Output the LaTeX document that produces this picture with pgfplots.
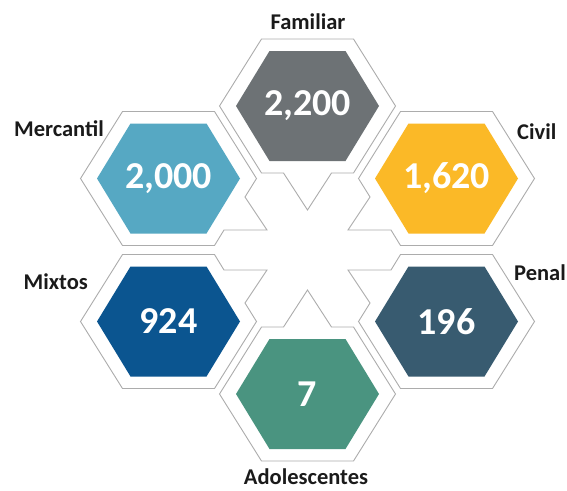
\documentclass[border=0pt]{standalone}
\usepackage{fontspec}
\setmainfont{Carlito}
\usepackage{pgfplots}
\usepackage{pgfplotstable}
\pgfplotsset{compat=1.18}

\definecolor{cF}{HTML}{6D7275}
\definecolor{cM}{HTML}{56A8C3}
\definecolor{cC}{HTML}{FBB927}
\definecolor{cX}{HTML}{0B5590}
\definecolor{cP}{HTML}{385B70}
\definecolor{cA}{HTML}{4A9480}
\definecolor{lbl}{HTML}{1A1A1A}

% helper for mark paths (pt units, y up)
\def\P#1#2{\pgfqpoint{#1pt}{#2pt}}

% inner coloured hexagon
\pgfdeclareplotmark{hexin}{%
  \pgfpathmoveto{\P{-71.5}{0}}\pgfpathlineto{\P{-38}{55}}\pgfpathlineto{\P{38}{55}}%
  \pgfpathlineto{\P{71.5}{0}}\pgfpathlineto{\P{38}{-55}}\pgfpathlineto{\P{-38}{-55}}%
  \pgfpathclose\pgfusepathqfill}

% outer outlines, each with a pointer towards the centre
\pgfdeclareplotmark{outF}{%
  \pgfpathmoveto{\P{-88}{0}}\pgfpathlineto{\P{-46}{67}}\pgfpathlineto{\P{46}{67}}%
  \pgfpathlineto{\P{88}{0}}\pgfpathlineto{\P{46}{-67}}\pgfpathlineto{\P{24}{-67}}%
  \pgfpathlineto{\P{0}{-104}}\pgfpathlineto{\P{-24}{-67}}\pgfpathlineto{\P{-46}{-67}}%
  \pgfpathclose\pgfusepathqfillstroke}
\pgfdeclareplotmark{outA}{%
  \pgfpathmoveto{\P{-88}{0}}\pgfpathlineto{\P{-46}{67}}\pgfpathlineto{\P{-24}{67}}%
  \pgfpathlineto{\P{0}{104}}\pgfpathlineto{\P{24}{67}}\pgfpathlineto{\P{46}{67}}%
  \pgfpathlineto{\P{88}{0}}\pgfpathlineto{\P{46}{-67}}\pgfpathlineto{\P{-46}{-67}}%
  \pgfpathclose\pgfusepathqfillstroke}
\pgfdeclareplotmark{outM}{%
  \pgfpathmoveto{\P{-88}{0}}\pgfpathlineto{\P{-46}{67}}\pgfpathlineto{\P{46}{67}}%
  \pgfpathlineto{\P{88}{0}}\pgfpathlineto{\P{76.5}{-18.5}}\pgfpathlineto{\P{98.5}{-51.5}}%
  \pgfpathlineto{\P{55.5}{-51.5}}\pgfpathlineto{\P{46}{-67}}\pgfpathlineto{\P{-46}{-67}}%
  \pgfpathclose\pgfusepathqfillstroke}
\pgfdeclareplotmark{outC}{%
  \pgfpathmoveto{\P{-88}{0}}\pgfpathlineto{\P{-46}{67}}\pgfpathlineto{\P{46}{67}}%
  \pgfpathlineto{\P{88}{0}}\pgfpathlineto{\P{46}{-67}}\pgfpathlineto{\P{-46}{-67}}%
  \pgfpathlineto{\P{-55.5}{-51.5}}\pgfpathlineto{\P{-98.5}{-51.5}}\pgfpathlineto{\P{-76.5}{-18.5}}%
  \pgfpathclose\pgfusepathqfillstroke}
\pgfdeclareplotmark{outX}{%
  \pgfpathmoveto{\P{-88}{0}}\pgfpathlineto{\P{-46}{67}}\pgfpathlineto{\P{46}{67}}%
  \pgfpathlineto{\P{55.5}{51.5}}\pgfpathlineto{\P{98.5}{51.5}}\pgfpathlineto{\P{76.5}{18.5}}%
  \pgfpathlineto{\P{88}{0}}\pgfpathlineto{\P{46}{-67}}\pgfpathlineto{\P{-46}{-67}}%
  \pgfpathclose\pgfusepathqfillstroke}
\pgfdeclareplotmark{outP}{%
  \pgfpathmoveto{\P{-88}{0}}\pgfpathlineto{\P{-76.5}{18.5}}\pgfpathlineto{\P{-98.5}{51.5}}%
  \pgfpathlineto{\P{-55.5}{51.5}}\pgfpathlineto{\P{-46}{67}}\pgfpathlineto{\P{46}{67}}%
  \pgfpathlineto{\P{88}{0}}\pgfpathlineto{\P{46}{-67}}\pgfpathlineto{\P{-46}{-67}}%
  \pgfpathclose\pgfusepathqfillstroke}

% positions (px, y downwards) and values
\pgfplotstableread{
x     y     val   cls
307.5 106   2200  F
168.5 178.5 2000  M
446.5 178.5 1620  C
168.5 321.5 924   X
446.5 321.5 196   P
307.5 394   7     A
}\datatab

\tikzset{outl/.style={fill=white,draw=gray!65,line width=0.9pt}}

\begin{document}
\begin{tikzpicture}
\begin{axis}[
    width=567pt, height=490pt, scale only axis,
    xmin=0, xmax=567, ymin=0, ymax=490,
    y dir=reverse,
    hide axis,
    clip=false,
]
\path (rel axis cs:0,0) rectangle (rel axis cs:1,1);

% outlines
\addplot[scatter, only marks, scatter src=explicit symbolic,
    scatter/classes={
        F={mark=outF,outl}, M={mark=outM,outl}, C={mark=outC,outl},
        X={mark=outX,outl}, P={mark=outP,outl}, A={mark=outA,outl}}]
    table[x=x, y=y, meta=cls] {\datatab};

% coloured hexagons
\addplot[scatter, only marks, scatter src=explicit symbolic,
    scatter/classes={
        F={mark=hexin,fill=cF,draw=none}, M={mark=hexin,fill=cM,draw=none},
        C={mark=hexin,fill=cC,draw=none}, X={mark=hexin,fill=cX,draw=none},
        P={mark=hexin,fill=cP,draw=none}, A={mark=hexin,fill=cA,draw=none}}]
    table[x=x, y=y, meta=cls] {\datatab};

% values
\addplot[draw=none, mark=none, point meta=explicit,
    nodes near coords,
    nodes near coords style={/pgf/number format/1000 sep={,},
        /pgf/number format/assume math mode=true},
    every node near coord/.append style={anchor=center, text=white,
        font=\fontsize{38}{40}\selectfont\bfseries}]
    table[x=x, y=y, meta=val] {\datatab};

\begin{scope}[every node/.style={text=lbl, inner sep=0pt, font=\fontsize{22.5}{25}\selectfont\bfseries}]
\node[anchor=base] at (axis cs:308,29) {Familiar};
\node[anchor=base east] at (axis cs:104,136) {Mercantil};
\node[anchor=base west] at (axis cs:517,139) {Civil};
\node[anchor=base east] at (axis cs:88,289) {Mixtos};
\node[anchor=base east] at (axis cs:566,280) {Penal};
\node[anchor=base] at (axis cs:306,484) {Adolescentes};
\end{scope}
\end{axis}
\end{tikzpicture}
\end{document}
